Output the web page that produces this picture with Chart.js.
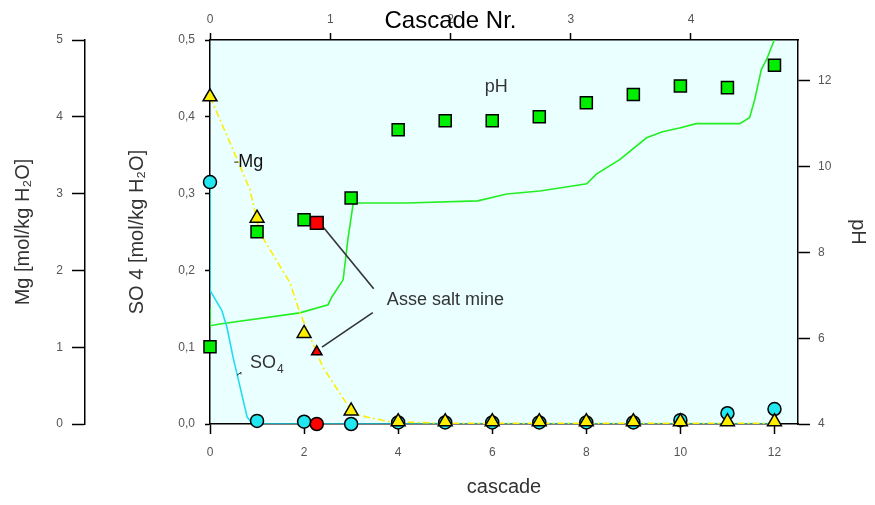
<!DOCTYPE html>
<html>
<head>
<meta charset="utf-8">
<script src="https://cdn.jsdelivr.net/npm/chart.js@4.4.0/dist/chart.umd.min.js"></script>
<style>
  body { margin: 0; background: #fff; }
  #wrap { width: 875px; height: 505px; }
</style>
</head>
<body>
<div id="wrap"><canvas id="chart"></canvas></div>
<script>
// measured values, one per cascade step
const cascade = [0, 1, 2, 3, 4, 5, 6, 7, 8, 9, 10, 11, 12];
const mgMeasured = [4.26, 2.68, 1.18, 0.17, 0.03, 0.03, 0.03, 0.03, 0.03, 0.03, 0.03, 0.03, 0.03];
const so4Measured = [0.315, 0.004, 0.003, 0.0, 0.002, 0.002, 0.002, 0.002, 0.002, 0.002, 0.005, 0.014, 0.0195];
const phMeasured = [5.80, 8.48, 8.76, 9.27, 10.86, 11.07, 11.07, 11.16, 11.49, 11.68, 11.88, 11.84, 12.36];

// Asse salt mine sample
const asseCascade = [2.27];
const asseMg = [0.94];
const asseSO4 = [0.0];
const assePH = [8.69];

// model curves
const so4ModelX = [0, 0, 0.25, 0.36, 0.49, 0.64, 0.79, 0.91, 2, 4, 6, 8, 10, 12];
const so4ModelY = [0.315, 0.174, 0.148, 0.126, 0.087, 0.048, 0.009, 0.0, 0.0, 0.0, 0.0, 0.0, 0.0, 0.0];
const mgModelX = [0, 0.49, 0.85, 1.06, 1.70, 1.91, 2.40, 2.76, 3.04, 3.33, 3.82, 5, 8, 12];
const mgModelY = [4.26, 3.57, 3.05, 2.49, 1.84, 1.45, 0.74, 0.40, 0.14, 0.09, 0.03, 0.01, 0.01, 0.01];
const phModelX = [0, 0, 0.21, 1.91, 2.51, 2.59, 2.83, 2.93, 3.04, 3.12, 4.18, 5.69, 6.31, 7.01, 7.43, 8.01, 8.22, 8.71, 9.28, 9.62, 9.98, 10.34, 11.26, 11.47, 11.58, 11.72, 11.83, 12.0];
const phModelY = [6.71, 6.29, 6.33, 6.59, 6.78, 6.96, 7.36, 8.29, 9.11, 9.15, 9.15, 9.20, 9.36, 9.43, 9.50, 9.60, 9.83, 10.16, 10.67, 10.81, 10.90, 11.0, 11.0, 11.14, 11.56, 12.26, 12.49, 12.96];

// leader lines to the "Asse salt mine" note
const leaderPhX = [2.40, 3.48];
const leaderPhY = [8.60, 7.15];
const leaderSo4X = [2.38, 3.46];
const leaderSo4Y = [0.100, 0.145];

// notes inside the plot (x in cascade, y in SO4 units)
const noteText = ['Mg', 'pH', 'Asse salt mine'];
const noteX = [0.60, 5.84, 3.76];
const noteY = [0.341, 0.439, 0.161];

const FONT = '"Liberation Sans", Arial, sans-serif';
Chart.defaults.font.family = FONT;

const pts = (xs, ys) => xs.map((x, i) => ({ x, y: ys[i] }));
const comma = v => v.toFixed(1).replace('.', ',');

const plotBackground = {
  id: 'plotBackground',
  beforeDraw(chart) {
    const { ctx, chartArea: a } = chart;
    ctx.save();
    ctx.fillStyle = '#eaffff';
    ctx.fillRect(a.left, a.top, a.right - a.left, a.bottom - a.top);
    ctx.restore();
  }
};

const plotNotes = {
  id: 'plotNotes',
  afterDatasetsDraw(chart) {
    const { ctx, scales: { x, y, x2 } } = chart;
    ctx.save();
    ctx.textBaseline = 'middle';
    ctx.textAlign = 'left';
    ctx.font = '18px ' + FONT;
    noteText.forEach((t, i) => {
      ctx.fillStyle = i === 0 ? '#111' : '#333';
      ctx.fillText(t, x.getPixelForValue(noteX[i]), y.getPixelForValue(noteY[i]));
    });
    // SO4 note with subscript
    const sx = x.getPixelForValue(0.85), sy = y.getPixelForValue(0.079);
    ctx.fillText('SO', sx, sy);
    const w = ctx.measureText('SO').width;
    ctx.font = '12px ' + FONT;
    ctx.fillText('4', sx + w + 1, sy + 6);
    // tiny leaders of the Mg and SO4 notes
    ctx.strokeStyle = '#222';
    ctx.lineWidth = 1;
    ctx.beginPath();
    const mx = x.getPixelForValue(noteX[0]), my = y.getPixelForValue(noteY[0]);
    ctx.moveTo(mx - 4, my); ctx.lineTo(mx, my);
    ctx.moveTo(sx - 13, sy + 12); ctx.lineTo(sx - 9, sy + 9); ctx.lineTo(sx - 9, sy + 11);
    ctx.stroke();
    // top title, centred on the upper axis
    ctx.fillStyle = '#000';
    ctx.textAlign = 'center';
    ctx.font = '24px ' + FONT;
    ctx.fillText('Cascade Nr.', x2.getPixelForValue(2), 21);
    ctx.restore();
  }
};

const marker = (label, xs, ys, yAxisID, style, color, radius, order) => ({
  label, data: pts(xs, ys), yAxisID, xAxisID: 'x', order, clip: false,
  pointStyle: style, pointRadius: radius, pointBackgroundColor: color,
  pointBorderColor: '#000', pointBorderWidth: 1.5, showLine: false
});

const curve = (label, xs, ys, yAxisID, color, dash, order) => ({
  label, data: pts(xs, ys), yAxisID, xAxisID: 'x', order,
  showLine: true, pointRadius: 0, borderColor: color, borderWidth: 1.6,
  borderDash: dash, fill: false, tension: 0
});

const tickFont = { size: 12 };
const tickColor = '#555';
const titleColor = '#333';

new Chart(document.getElementById('chart').getContext('2d'), {
  type: 'scatter',
  data: {
    datasets: [
      marker('Asse Mg', asseCascade, asseMg, 'yMg', 'triangle', '#ff0000', 6, 0),
      marker('Asse pH', asseCascade, assePH, 'yPH', 'rect', '#ff0000', 9, 0),
      marker('Asse SO4', asseCascade, asseSO4, 'y', 'circle', '#ff0000', 6.5, 0),
      marker('pH', cascade, phMeasured, 'yPH', 'rect', '#00ee00', 8.5, 2),
      marker('Mg', cascade, mgMeasured, 'yMg', 'triangle', '#ffee00', 8, 3),
      marker('SO4', cascade, so4Measured, 'y', 'circle', '#22e6f0', 6.5, 4),
      curve('leader pH', leaderPhX, leaderPhY, 'yPH', '#333', [], 5),
      curve('leader SO4', leaderSo4X, leaderSo4Y, 'y', '#333', [], 5),
      curve('Mg model', mgModelX, mgModelY, 'yMg', '#ffee00', [7, 3, 2, 3], 6),
      curve('SO4 model', so4ModelX, so4ModelY, 'y', '#22dcee', [], 7),
      curve('pH model', phModelX, phModelY, 'yPH', '#22ee22', [], 8)
    ]
  },
  options: {
    responsive: true,
    maintainAspectRatio: false,
    animation: false,
    layout: { padding: 0, autoPadding: false },
    plugins: { legend: { display: false }, tooltip: { enabled: false } },
    scales: {
      x: {
        type: 'linear', position: 'bottom', min: 0, max: 12.5,
        ticks: { stepSize: 2, includeBounds: false, color: tickColor, font: tickFont, padding: 11 },
        grid: { drawOnChartArea: false, tickLength: 10, tickColor: '#000', tickWidth: 1.5 },
        border: { color: '#000', width: 1.5 },
        title: { display: true, text: 'cascade', color: titleColor, font: { size: 20 }, padding: { top: 0, bottom: 6 } },
        afterFit: s => { s.height = 81; }
      },
      x2: {
        type: 'linear', position: 'top', min: 0, max: 4.89,
        ticks: { stepSize: 1, includeBounds: false, color: tickColor, font: tickFont, padding: 6 },
        grid: { drawOnChartArea: false, tickLength: 7, tickColor: '#000', tickWidth: 1.5 },
        border: { color: '#000', width: 1.5 },
        afterFit: s => { s.height = 40; }
      },
      y: {
        type: 'linear', position: 'left', weight: 0, min: 0, max: 0.5,
        ticks: { stepSize: 0.1, color: tickColor, font: tickFont, padding: 10, callback: comma },
        grid: { drawOnChartArea: false, tickLength: 5, tickColor: '#000', tickWidth: 1.5 },
        border: { color: '#000', width: 1.5 },
        title: { display: true, text: 'SO 4 [mol/kg H\u2082O]', color: titleColor, font: { size: 20 }, padding: { top: 40, bottom: 0 } },
        afterFit: s => { s.width = 125; }
      },
      yMg: {
        type: 'linear', position: 'left', weight: 1, min: 0, max: 5,
        ticks: { stepSize: 1, color: tickColor, font: tickFont, padding: 9 },
        grid: { drawOnChartArea: false, tickLength: 13, tickColor: '#000', tickWidth: 1.5 },
        border: { color: '#000', width: 1.5 },
        title: { display: true, text: 'Mg [mol/kg H\u2082O]', color: titleColor, font: { size: 20 }, padding: { top: 11, bottom: 0 } },
        afterFit: s => { s.width = 85; }
      },
      yPH: {
        type: 'linear', position: 'right', min: 4, max: 12.95,
        ticks: { stepSize: 2, includeBounds: false, color: tickColor, font: tickFont, padding: 8 },
        grid: { drawOnChartArea: false, tickLength: 12, tickColor: '#000', tickWidth: 1.5 },
        border: { color: '#000', width: 1.5 },
        title: { display: true, text: 'pH', color: titleColor, font: { size: 20 }, padding: { top: 5, bottom: 0 } },
        afterFit: s => { s.width = 77; }
      }
    }
  },
  plugins: [plotBackground, plotNotes]
});
</script>
</body>
</html>
